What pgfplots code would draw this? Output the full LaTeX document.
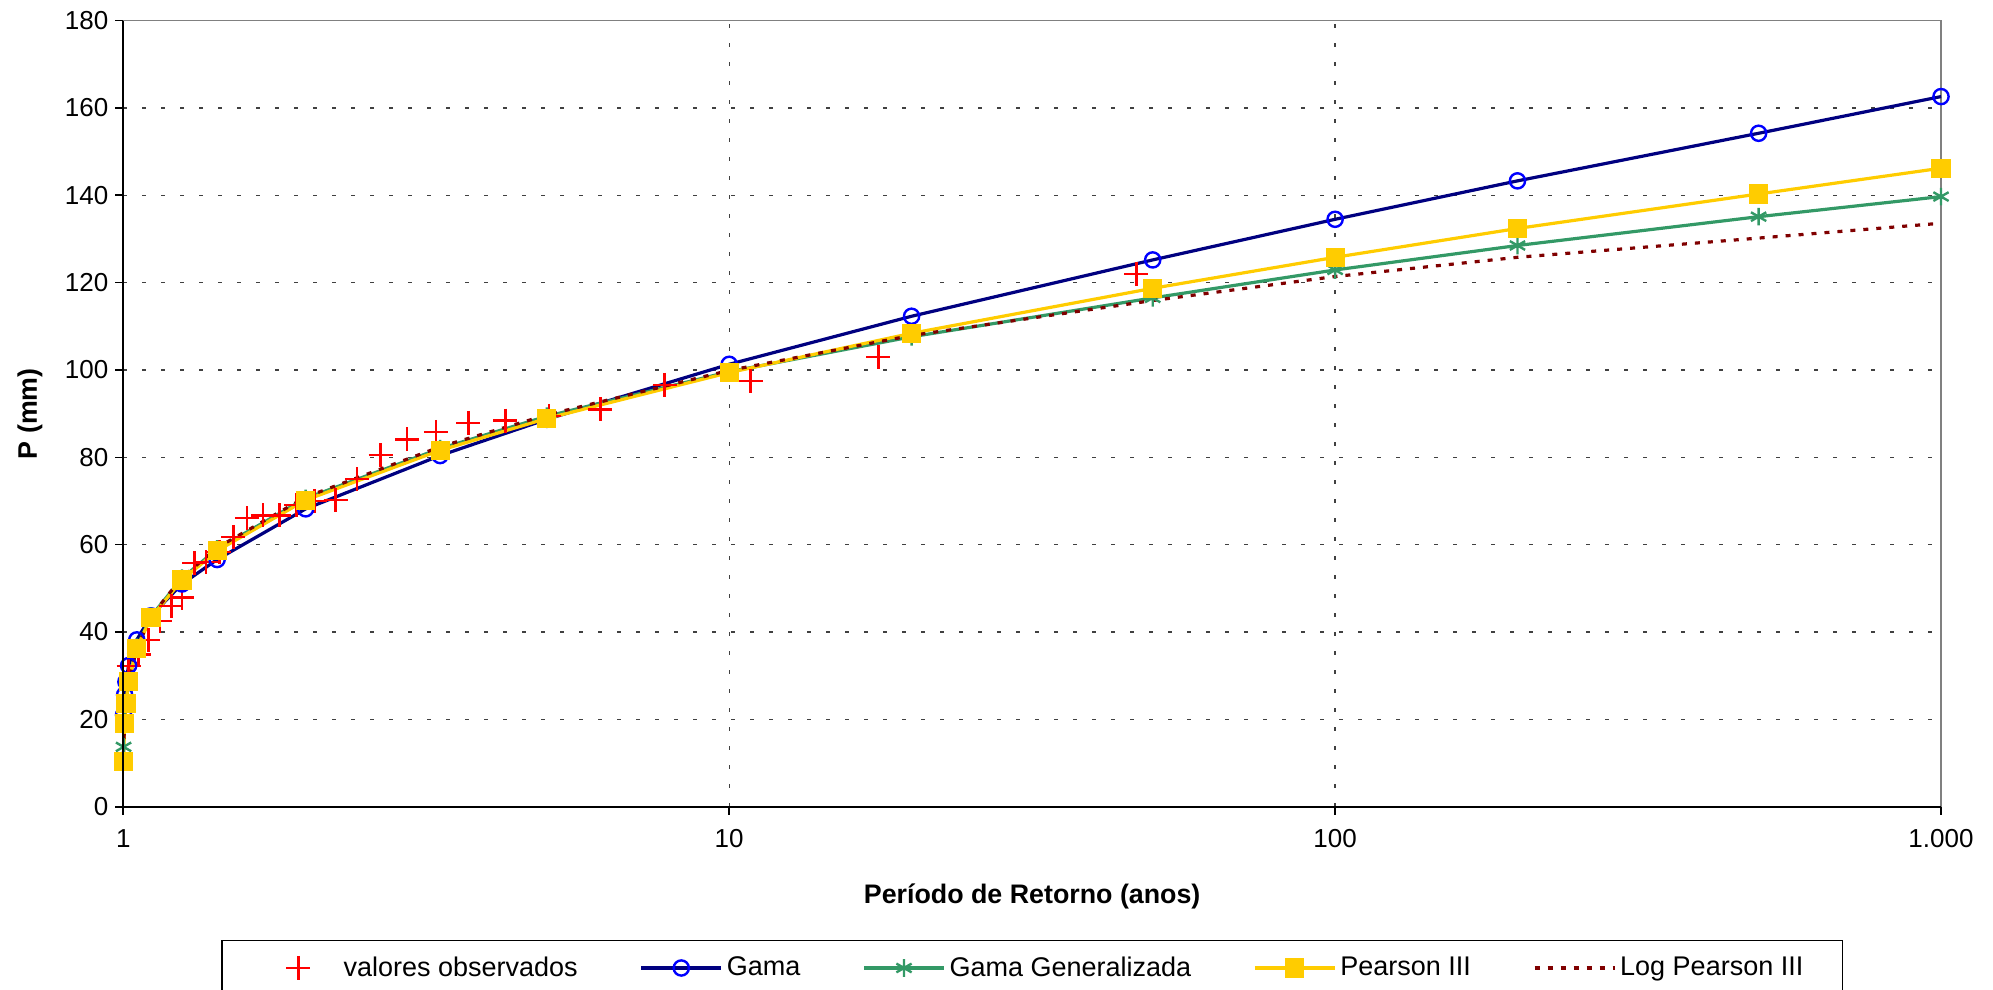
\documentclass[border=0pt]{standalone}
\usepackage{fontspec}
\setmainfont{Liberation Sans}
\usepackage{pgfplots}
\pgfplotsset{compat=1.18}
\usepackage{pgfplotstable}
\definecolor{gnavy}{RGB}{0,0,128}
\definecolor{gblue}{RGB}{0,0,255}
\definecolor{gsea}{RGB}{51,153,102}
\definecolor{ggold}{RGB}{255,204,0}
\definecolor{gdred}{RGB}{128,0,0}
\definecolor{gred}{RGB}{255,0,0}

\pgfplotsset{
  longlegend/.style={legend image code/.code={\draw[mark repeat=2,mark phase=2,##1] plot coordinates {(0pt,0pt) (20pt,0pt) (40pt,0pt)};}},
  marklegend/.style={legend image code/.code={\path (0pt,0pt) (40pt,0pt); \draw[##1] plot coordinates {(20pt,0pt)};}},
}

\pgfplotstableread{
T P
47.0 122.0
17.63 103.0
10.85 97.5
7.83 96.6
6.13 91.0
5.04 89.5
4.27 88.4
3.71 87.9
3.28 85.8
2.94 84.1
2.66 80.5
2.43 75.0
2.24 70.2
2.07 70.0
1.93 69.1
1.81 66.7
1.70 66.7
1.60 66.1
1.52 61.8
1.44 58.3
1.37 56.0
1.31 55.8
1.25 47.9
1.20 46.0
1.15 42.5
1.10 38.2
1.06 34.9
1.02 32.2
}\obsdata

\pgfplotstableread{
T gama gg p3 lp3
1.001 21.0 13.7 10.3 12.5
1.005 25.6 19.6 19.1 19.3
1.01 28.6 23.6 23.7 23.4
1.0204 32.3 28.5 28.6 28.3
1.0526 38.2 36.5 36.3 36.3
1.1111 43.7 43.6 43.3 43.6
1.25 51.0 52.3 51.9 52.5
1.4286 56.6 59.0 58.6 59.3
2 68.2 70.6 70.2 70.9
3.3333 80.4 82.0 81.6 82.4
5 88.7 89.4 88.9 89.7
10 101.3 99.6 99.4 99.9
20 112.3 107.6 108.4 107.9
50 125.2 116.5 118.7 115.9
100 134.5 122.9 125.8 121.4
200 143.3 128.5 132.4 125.8
500 154.2 135.1 140.3 130.2
1000 162.6 139.7 146.2 133.6
}\fitdata

\begin{document}
\begin{tikzpicture}
\begin{axis}[name=ax,
  scale only axis, width=908.85pt, height=393.05pt,
  xmode=log, xmin=1, xmax=1000, ymin=0, ymax=180,
  xtick={1,10,100,1000}, xticklabels={1,10,100,{1.000}},
  ytick={0,20,...,180},
  xminorticks=false, yminorticks=false,
  tick pos=left, tick align=outside,
  major tick length=4pt,
  tick style={black, line width=0.8pt},
  axis line style={gray, line width=0.7pt},
  grid=major,
  major grid style={black!75, line width=0.7pt, dash pattern=on 2pt off 7.5pt},
  /pgf/number format/assume math mode=true,
  tick label style={font=\fontsize{13}{15}\selectfont},
  xticklabel shift=4pt,
  yticklabel shift=0pt,
  xlabel={\bfseries Período de Retorno (anos)},
  ylabel={\bfseries P (mm)},
  label style={font=\fontsize{13.4}{16}\selectfont},
  xlabel style={at={(axis description cs:0.5,0)}, anchor=base, yshift=-48.2pt},
  ylabel style={at={(axis description cs:0,0.5)}, anchor=center, yshift=46.7pt},
  clip=false,
  legend columns=5,
  legend cell align=left,
  longlegend,
  legend style={at={(0.5,-0.1697)}, anchor=north, draw=black, line width=0.6pt, fill=white,
    inner xsep=17.5pt, inner ysep=6pt,
    font=\fontsize{13.5}{15.5}\selectfont,
    nodes={inner sep=2pt},
    /tikz/every even column/.append style={column sep=29pt}},
  after end axis/.code={\draw[black, line width=0.9pt] (rel axis cs:0,1) -- (rel axis cs:0,0) -- (rel axis cs:1,0);},
]
\addplot[only marks, mark=+, color=gred, mark size=6pt, line width=1.3pt, marklegend]
  table[x=T, y=P]{\obsdata};
\addlegendentry{valores observados}
\addplot[color=gnavy, line width=1.6pt, mark=o, mark size=3.8pt, mark options={draw=gblue, line width=1.2pt, solid}]
  table[x=T, y=gama]{\fitdata};
\addlegendentry{Gama}
\addplot[color=gsea, line width=1.6pt, mark=asterisk, mark size=4.4pt, mark options={line width=1.2pt, solid}]
  table[x=T, y=gg]{\fitdata};
\addlegendentry{Gama Generalizada}
\addplot[color=ggold, line width=1.6pt, mark=square*, mark size=4pt, mark options={solid}]
  table[x=T, y=p3]{\fitdata};
\addlegendentry{Pearson III}
\addplot[color=gdred, line width=1.6pt, dash pattern=on 2.5pt off 4pt]
  table[x=T, y=lp3]{\fitdata};
\addlegendentry{Log Pearson III\hspace{9pt}}
\end{axis}
\pgfresetboundingbox
\path ([xshift=-61.65pt,yshift=-91.15pt]ax.south west) rectangle ([xshift=26pt,yshift=10.3pt]ax.north east);
\end{tikzpicture}
\end{document}
